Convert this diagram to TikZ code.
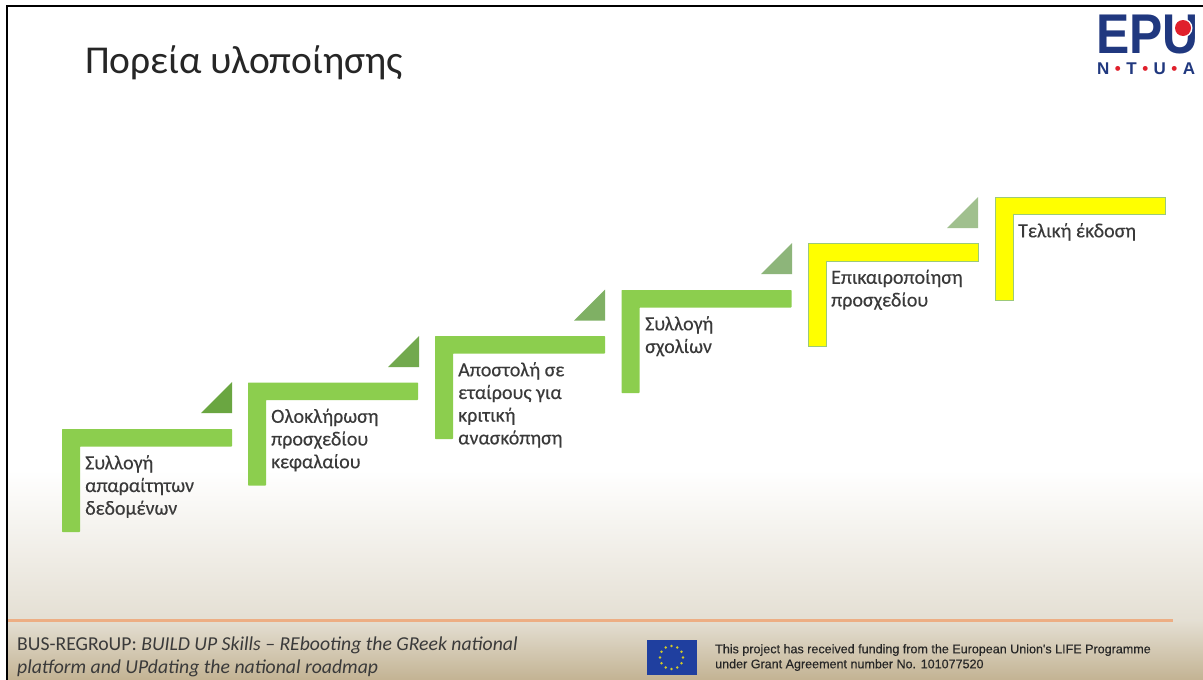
\documentclass[tikz,border=0pt]{standalone}
\usepackage{fontspec}
\setmainfont{Carlito}
\newfontfamily\arialf{Liberation Sans}
\newfontfamily\stepf[FakeBold=0.25]{Carlito}
\newfontfamily\arialbf[FakeBold=0.2]{Liberation Sans}
\newfontfamily\logof[FakeBold=0.6]{Liberation Sans Bold}
\definecolor{stepgreen}{HTML}{8CCE4E}
\definecolor{edgegreen}{HTML}{9CC97A}
\definecolor{stepyellow}{HTML}{FFFF00}
\definecolor{inkc}{HTML}{3A3A3A}
\definecolor{tanmid}{HTML}{E4DFD3}
\definecolor{tanlow}{HTML}{C3B393}
\definecolor{eublue}{HTML}{1F3F9F}
\definecolor{navy}{HTML}{20387F}
\definecolor{epured}{HTML}{E0202C}
\definecolor{lineorange}{HTML}{EDAE84}
\definecolor{triA}{HTML}{6AA641}
\definecolor{triB}{HTML}{72A94E}
\definecolor{triC}{HTML}{7FB064}
\definecolor{triD}{HTML}{8DB57A}
\definecolor{triE}{HTML}{A0C08E}
\tikzset{
  x=1pt,y=-1pt,
  stepgreenbox/.style={fill=stepgreen,rounded corners=.6pt},
  stepyellowbox/.style={fill=stepyellow,draw=edgegreen,line width=.7pt},
  steptext/.style={anchor=north west,inner sep=0pt,align=left,text=inkc,font=\stepf\fontsize{20pt}{22.7pt}\selectfont},
  footleft/.style={anchor=north west,inner sep=0pt,align=left,text=inkc,font=\fontsize{19.7pt}{22.6pt}\selectfont},
  footright/.style={anchor=north west,inner sep=0pt,align=left,text=black!85,font=\arialbf\fontsize{12.55pt}{15pt}\selectfont},
}
\newcommand{\stepshape}[3]{% x, y, style
  \path[#3] (#1,#2) -- ++(170,0) -- ++(0,17.5) -- ++(-152,0) -- ++(0,85.5) -- ++(-18,0) -- cycle;}
\newcommand{\tri}[3]{% right x, top y, colour
  \fill[#3] (#1,#2) -- (#1,#2+31) -- (#1-31,#2+31) -- cycle;}
\begin{document}
\begin{tikzpicture}
\useasboundingbox (0,0) rectangle (1203,680);
\fill[white] (0,0) rectangle (1203,680);
% background
\shade[top color=white,bottom color=tanmid] (8,470) rectangle (1203,621);
\shade[top color=tanmid,bottom color=tanlow] (8,620.5) rectangle (1203,680);
% frame
\draw[black,line width=2pt] (1203,5.5) -- (7,5.5) -- (7,680);
% title
\node[anchor=base west,inner sep=0pt,text=black!85,font=\fontsize{39.5pt}{39.5pt}\selectfont] (title) at (85,73) {Πορεία υλοποίησης};
% logo
\node[anchor=base west,inner sep=0pt,text=navy,font=\arialf\bfseries\fontsize{56pt}{56pt}\selectfont,xscale=.89] (epu) at (1096,53) {EPU};
\fill[white] (1183,28) circle (9.5);
\fill[epured] (1183,28) circle (8);
\node[anchor=base west,inner sep=0pt,text=navy,font=\arialf\bfseries\fontsize{17pt}{17pt}\selectfont] (ntua) at (1097,74) {\makebox[98pt][s]{N\hfill\textcolor{epured}{•}\hfill T\hfill\textcolor{epured}{•}\hfill U\hfill\textcolor{epured}{•}\hfill A}};
% steps
\stepshape{62}{429}{stepgreenbox}
\stepshape{248}{382.5}{stepgreenbox}
\stepshape{435}{336}{stepgreenbox}
\stepshape{621.5}{290}{stepgreenbox}
\stepshape{808}{243.5}{stepyellowbox}
\stepshape{995}{197}{stepyellowbox}
% triangles
\tri{232}{382}{triA}
\tri{419}{336}{triB}
\tri{605}{289.5}{triC}
\tri{792}{243}{triD}
\tri{978}{197}{triE}
% texts
\node[steptext] (t1) at (85,455) {Συλλογή\\απαραίτητων\\δεδομένων};
\node[steptext] (t2) at (271,408.5) {Ολοκλήρωση\\προσχεδίου\\κεφαλαίου};
\node[steptext] (t3) at (458,362) {Αποστολή σε\\εταίρους για\\κριτική\\ανασκόπηση};
\node[steptext] (t4) at (645,316) {Συλλογή\\σχολίων};
\node[steptext] (t5) at (831,269.5) {Επικαιροποίηση\\προσχεδίου};
\node[steptext] (t6) at (1018,223) {Τελική έκδοση};
% footer
\fill[lineorange] (8,618.7) rectangle (1173,621.7);
\node[footleft] (fl) at (17,637) {BUS-REGRoUP: \textit{BUILD UP Skills – REbooting the GReek national}\\\textit{platform and UPdating the national roadmap}};
\fill[eublue] (647,640) rectangle (697,675);
\foreach \a in {0,30,...,330}{\fill[yellow!80!black] (671.5,657.5) ++(\a:11.5) circle (1.4);}
\node[footright] (fr) at (715,644) {This project has received funding from the European Union's LIFE Programme\\under Grant Agreement number No. 101077520};
\end{tikzpicture}
\end{document}
